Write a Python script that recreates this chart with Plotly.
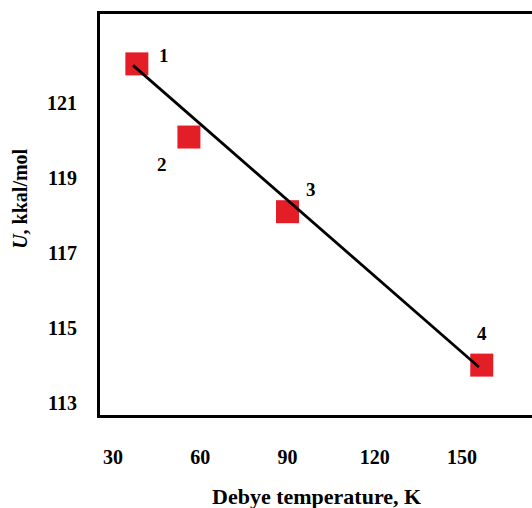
import plotly.graph_objects as go

# Data
debye_T = [38.2, 56.1, 90.0, 156.8]
energy_U = [122.04, 120.09, 118.10, 114.01]
point_labels = ["1", "2", "3", "4"]
fit_T = [36.9, 155.8]
fit_U = [122.0, 113.96]
x_ticks = [30, 60, 90, 120, 150]
y_ticks = [113, 115, 117, 119, 121]

# label offsets (pixels) relative to each point
label_dx = [27, -27, 23, 0]
label_dy = [8, -27, 22, 32]

FONT = "Liberation Serif, Times New Roman, serif"

fig = go.Figure()
fig.add_trace(go.Scatter(x=debye_T, y=energy_U, mode="markers",
                         marker=dict(symbol="square", size=23, color="#e41e26",
                                     line=dict(width=0)),
                         showlegend=False, hoverinfo="skip"))
fig.add_trace(go.Scatter(x=fit_T, y=fit_U, mode="lines",
                         line=dict(color="black", width=2.8),
                         showlegend=False, hoverinfo="skip"))

for x, y, t, dx, dy in zip(debye_T, energy_U, point_labels, label_dx, label_dy):
    fig.add_annotation(x=x, y=y, text=f"<b>{t}</b>", showarrow=False,
                       xshift=dx, yshift=dy,
                       font=dict(family=FONT, size=19, color="black"))

# axis titles as annotations
fig.add_annotation(xref="paper", yref="paper", x=0, y=0.539, xshift=-80,
                   xanchor="center", yanchor="middle", textangle=-90,
                   text="<b><i>U</i>, kkal/mol</b>", showarrow=False,
                   font=dict(size=20, family=FONT, color="black"))
fig.add_annotation(xref="paper", yref="paper", x=0.5, y=0, yshift=-81,
                   xanchor="center", yanchor="middle",
                   text="<b>Debye temperature, K</b>", showarrow=False,
                   font=dict(size=22, family=FONT, color="black"))

fig.update_layout(
    width=532, height=508,
    margin=dict(l=100, r=0, t=14, b=93),
    plot_bgcolor="white", paper_bgcolor="white",
    font=dict(family=FONT, color="black"),
    xaxis=dict(range=[25.53, 174.07], tickvals=x_ticks,
               ticktext=[f"<b>{v}</b>" for v in x_ticks],
               tickfont=dict(size=20, family=FONT),
               showgrid=False, zeroline=False, automargin=False,
               showline=True, linecolor="black", linewidth=3, mirror=True,
               ticks="", ticklabelstandoff=22),
    yaxis=dict(range=[112.68, 123.37], tickvals=y_ticks,
               ticktext=[f"<b>{v}</b>" for v in y_ticks],
               tickfont=dict(size=20, family=FONT),
               showgrid=False, zeroline=False, automargin=False,
               showline=True, linecolor="black", linewidth=3, mirror=False,
               ticks="", ticklabelstandoff=16),
)

fig.write_html("out.html")
